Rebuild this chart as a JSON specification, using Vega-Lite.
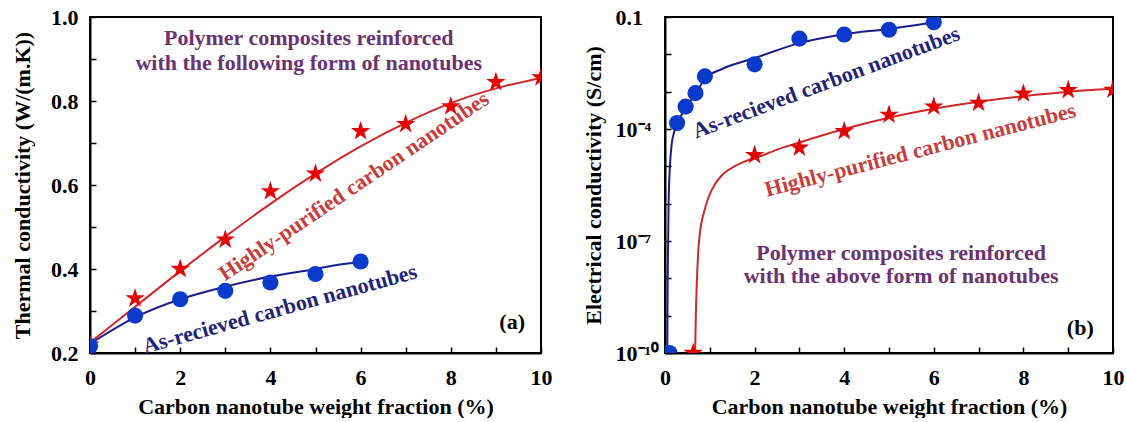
{
  "$schema": "https://vega.github.io/schema/vega-lite/v6.json",
  "padding": {"left": 10, "top": 5, "right": 5, "bottom": 0},
  "background": "white",
  "spacing": 28,
  "datasets": {
    "a_pts": [
      {"series": "Highly-purified", "x": 0, "y": 0.22},
      {"series": "Highly-purified", "x": 1, "y": 0.33},
      {"series": "Highly-purified", "x": 2, "y": 0.40},
      {"series": "Highly-purified", "x": 3, "y": 0.47},
      {"series": "Highly-purified", "x": 4, "y": 0.585},
      {"series": "Highly-purified", "x": 5, "y": 0.627},
      {"series": "Highly-purified", "x": 6, "y": 0.728},
      {"series": "Highly-purified", "x": 7, "y": 0.745},
      {"series": "Highly-purified", "x": 8, "y": 0.787},
      {"series": "Highly-purified", "x": 9, "y": 0.845},
      {"series": "Highly-purified", "x": 10, "y": 0.856},
      {"series": "As-received", "x": 0, "y": 0.216},
      {"series": "As-received", "x": 1, "y": 0.289},
      {"series": "As-received", "x": 2, "y": 0.328},
      {"series": "As-received", "x": 3, "y": 0.348},
      {"series": "As-received", "x": 4, "y": 0.368},
      {"series": "As-received", "x": 5, "y": 0.388},
      {"series": "As-received", "x": 6, "y": 0.418}
    ],
    "a_fit": [
      {"series": "Highly-purified", "x": 0, "y": 0.225},
      {"series": "Highly-purified", "x": 1, "y": 0.31},
      {"series": "Highly-purified", "x": 2, "y": 0.395},
      {"series": "Highly-purified", "x": 3, "y": 0.477},
      {"series": "Highly-purified", "x": 4, "y": 0.555},
      {"series": "Highly-purified", "x": 5, "y": 0.627},
      {"series": "Highly-purified", "x": 6, "y": 0.692},
      {"series": "Highly-purified", "x": 7, "y": 0.748},
      {"series": "Highly-purified", "x": 8, "y": 0.795},
      {"series": "Highly-purified", "x": 9, "y": 0.83},
      {"series": "Highly-purified", "x": 10, "y": 0.855},
      {"series": "As-received", "x": 0, "y": 0.222},
      {"series": "As-received", "x": 1, "y": 0.285},
      {"series": "As-received", "x": 2, "y": 0.328},
      {"series": "As-received", "x": 3, "y": 0.358},
      {"series": "As-received", "x": 4, "y": 0.382},
      {"series": "As-received", "x": 5, "y": 0.40},
      {"series": "As-received", "x": 5.5, "y": 0.41},
      {"series": "As-received", "x": 6, "y": 0.416}
    ],
    "b_pts": [
      {"series": "Highly-purified", "x": 0.63, "y": 1e-10},
      {"series": "Highly-purified", "x": 2, "y": 2.0e-5},
      {"series": "Highly-purified", "x": 3, "y": 3.16e-5},
      {"series": "Highly-purified", "x": 4, "y": 8.7e-5},
      {"series": "Highly-purified", "x": 5, "y": 2.4e-4},
      {"series": "Highly-purified", "x": 6, "y": 3.98e-4},
      {"series": "Highly-purified", "x": 7, "y": 5.0e-4},
      {"series": "Highly-purified", "x": 8, "y": 8.9e-4},
      {"series": "Highly-purified", "x": 9, "y": 1.1e-3},
      {"series": "Highly-purified", "x": 10, "y": 1.12e-3},
      {"series": "As-received", "x": 0.1, "y": 1e-10},
      {"series": "As-received", "x": 0.27, "y": 1.45e-4},
      {"series": "As-received", "x": 0.46, "y": 3.98e-4},
      {"series": "As-received", "x": 0.68, "y": 9.12e-4},
      {"series": "As-received", "x": 0.89, "y": 2.57e-3},
      {"series": "As-received", "x": 2, "y": 5.4e-3},
      {"series": "As-received", "x": 3, "y": 2.63e-2},
      {"series": "As-received", "x": 4, "y": 3.39e-2},
      {"series": "As-received", "x": 5, "y": 4.57e-2},
      {"series": "As-received", "x": 6, "y": 7.24e-2}
    ],
    "b_fit": [
      {"series": "Highly-purified", "x": 0.672, "y": 1e-10},
      {"series": "Highly-purified", "x": 0.689, "y": 1.12e-9},
      {"series": "Highly-purified", "x": 0.712, "y": 8.7e-9},
      {"series": "Highly-purified", "x": 0.749, "y": 6.9e-8},
      {"series": "Highly-purified", "x": 0.787, "y": 1.95e-7},
      {"series": "Highly-purified", "x": 0.861, "y": 5.37e-7},
      {"series": "Highly-purified", "x": 0.974, "y": 1.51e-6},
      {"series": "Highly-purified", "x": 1.124, "y": 3.47e-6},
      {"series": "Highly-purified", "x": 1.311, "y": 6.46e-6},
      {"series": "Highly-purified", "x": 1.536, "y": 9.77e-6},
      {"series": "Highly-purified", "x": 1.76, "y": 1.32e-5},
      {"series": "Highly-purified", "x": 2, "y": 1.62e-5},
      {"series": "Highly-purified", "x": 2.5, "y": 2.8e-5},
      {"series": "Highly-purified", "x": 3, "y": 4.37e-5},
      {"series": "Highly-purified", "x": 4, "y": 1.0e-4},
      {"series": "Highly-purified", "x": 5, "y": 2.0e-4},
      {"series": "Highly-purified", "x": 6, "y": 3.47e-4},
      {"series": "Highly-purified", "x": 7, "y": 5.37e-4},
      {"series": "Highly-purified", "x": 8, "y": 7.59e-4},
      {"series": "Highly-purified", "x": 9, "y": 1.0e-3},
      {"series": "Highly-purified", "x": 10, "y": 1.2e-3},
      {"series": "As-received", "x": 0.05, "y": 1e-10},
      {"series": "As-received", "x": 0.06, "y": 1e-8},
      {"series": "As-received", "x": 0.08, "y": 1e-6},
      {"series": "As-received", "x": 0.11, "y": 1e-5},
      {"series": "As-received", "x": 0.15, "y": 3.98e-5},
      {"series": "As-received", "x": 0.2, "y": 7.94e-5},
      {"series": "As-received", "x": 0.27, "y": 1.41e-4},
      {"series": "As-received", "x": 0.46, "y": 3.55e-4},
      {"series": "As-received", "x": 0.68, "y": 8.91e-4},
      {"series": "As-received", "x": 0.9, "y": 2.24e-3},
      {"series": "As-received", "x": 1.3, "y": 4.17e-3},
      {"series": "As-received", "x": 2, "y": 7.94e-3},
      {"series": "As-received", "x": 3, "y": 2.0e-2},
      {"series": "As-received", "x": 4, "y": 3.47e-2},
      {"series": "As-received", "x": 5, "y": 4.79e-2},
      {"series": "As-received", "x": 6, "y": 7.24e-2}
    ]
  },
  "config": {
    "font": "Liberation Serif, Times New Roman, serif",
    "view": {"stroke": "black", "strokeWidth": 2},
    "axis": {
      "labelFont": "Liberation Serif, Times New Roman, serif", "labelFontWeight": "bold", "labelFontSize": 22, "labelColor": "black",
      "titleFont": "Liberation Serif, Times New Roman, serif", "titleFontWeight": "bold", "titleFontSize": 22, "titleColor": "black",
      "domainColor": "black", "domainWidth": 2, "tickColor": "black", "tickWidth": 1.5, "tickSize": -6,
      "grid": false
    },
    "text": {"font": "Liberation Serif, Times New Roman, serif", "fontWeight": "bold"}
  },
  "hconcat": [
    {
      "width": 451, "height": 336,
      "encoding": {
        "x": {"field": "x", "type": "quantitative", "scale": {"domain": [0, 10]},
          "axis": {"values": [0,1,2,3,4,5,6,7,8,9,10], "labelExpr": "datum.value % 2 == 0 ? datum.label : ''", "labelPadding": 20, "title": "Carbon nanotube weight fraction (%)", "titlePadding": 8, "labelFlush": false}},
        "y": {"field": "y", "type": "quantitative", "scale": {"domain": [0.2, 1.0]},
          "axis": {"values": [0.2,0.3,0.4,0.5,0.6,0.7,0.8,0.9,1.0], "labelExpr": "indexof(['0.2','0.4','0.6','0.8','1.0'], format(datum.value,'.1f')) >= 0 ? format(datum.value,'.1f') : ''", "labelPadding": 18, "title": "Thermal conductivity (W/(m.K))", "titlePadding": 16, "labelFlush": false}}
      },
      "layer": [
        {"data": {"name": "a_fit"}, "mark": {"type": "line", "interpolate": "monotone", "strokeWidth": 2, "clip": true},
          "encoding": {"detail": {"field": "series"}, "color": {"field": "series", "type": "nominal", "scale": {"domain": ["Highly-purified", "As-received"], "range": ["#d02828", "#1c1c8c"]}, "legend": null}}},
        {"data": {"name": "a_pts"}, "mark": {"type": "point", "filled": true, "opacity": 1, "clip": true},
          "encoding": {
            "color": {"field": "series", "type": "nominal", "scale": {"domain": ["Highly-purified", "As-received"], "range": ["#e60000", "#0a3acc"]}, "legend": null},
            "shape": {"field": "series", "type": "nominal", "scale": {"domain": ["Highly-purified", "As-received"], "range": ["M0,-1L0.2245,-0.309L0.9511,-0.309L0.3633,0.118L0.5878,0.809L0,0.382L-0.5878,0.809L-0.3633,0.118L-0.9511,-0.309L-0.2245,-0.309Z", "circle"]}, "legend": null},
            "size": {"field": "series", "type": "nominal", "scale": {"domain": ["Highly-purified", "As-received"], "range": [420, 260]}, "legend": null}
          }},
        {"data": {"values": [{"x": 4.85, "y": 0.949, "t": "Polymer composites reinforced"}, {"x": 4.85, "y": 0.89, "t": "with the following form of nanotubes"}]},
          "mark": {"type": "text", "fontSize": 22, "color": "#6a3272", "baseline": "middle"},
          "encoding": {"text": {"field": "t"}}},
        {"data": {"values": [{"x": 5.85, "y": 0.597, "t": "Highly-purified carbon nanotubes"}]},
          "mark": {"type": "text", "fontSize": 22, "color": "#c83c3c", "baseline": "middle", "angle": -34},
          "encoding": {"text": {"field": "t"}}},
        {"data": {"values": [{"x": 4.21, "y": 0.305, "t": "As-recieved carbon nanotubes"}]},
          "mark": {"type": "text", "fontSize": 22, "color": "#1f2478", "baseline": "middle", "angle": -15.5},
          "encoding": {"text": {"field": "t"}}},
        {"data": {"values": [{"x": 9.36, "y": 0.273, "t": "(a)"}]},
          "mark": {"type": "text", "fontSize": 22, "color": "black", "baseline": "middle"},
          "encoding": {"text": {"field": "t"}}}
      ],
      "resolve": {"scale": {"color": "independent"}}
    },
    {
      "width": 448, "height": 336,
      "encoding": {
        "x": {"field": "x", "type": "quantitative", "scale": {"domain": [0, 10]},
          "axis": {"values": [0,1,2,3,4,5,6,7,8,9,10], "labelExpr": "datum.value % 2 == 0 ? datum.label : ''", "labelPadding": 20, "title": "Carbon nanotube weight fraction (%)", "titlePadding": 8, "labelFlush": false}},
        "y": {"field": "y", "type": "quantitative", "scale": {"type": "log", "domain": [1e-10, 0.1]},
          "axis": {"values": [1e-10,1e-9,1e-8,1e-7,1e-6,1e-5,1e-4,1e-3,1e-2,1e-1], "labelExpr": "round(log(datum.value)/LN10) == -1 ? '0.1' : round(log(datum.value)/LN10) == -4 ? '10⁻⁴' : round(log(datum.value)/LN10) == -7 ? '10⁻⁷' : round(log(datum.value)/LN10) == -10 ? '10⁻¹⁰' : ''", "labelAlign": "left", "labelPadding": 56, "title": "Electrical conductivity (S/cm)", "titlePadding": 10, "labelFlush": false}}
      },
      "layer": [
        {"data": {"name": "b_fit"}, "mark": {"type": "line", "interpolate": "monotone", "strokeWidth": 2, "clip": true},
          "encoding": {"detail": {"field": "series"}, "color": {"field": "series", "type": "nominal", "scale": {"domain": ["Highly-purified", "As-received"], "range": ["#d02828", "#1c1c8c"]}, "legend": null}}},
        {"data": {"name": "b_pts"}, "mark": {"type": "point", "filled": true, "opacity": 1, "clip": true},
          "encoding": {
            "color": {"field": "series", "type": "nominal", "scale": {"domain": ["Highly-purified", "As-received"], "range": ["#e60000", "#0a3acc"]}, "legend": null},
            "shape": {"field": "series", "type": "nominal", "scale": {"domain": ["Highly-purified", "As-received"], "range": ["M0,-1L0.2245,-0.309L0.9511,-0.309L0.3633,0.118L0.5878,0.809L0,0.382L-0.5878,0.809L-0.3633,0.118L-0.9511,-0.309L-0.2245,-0.309Z", "circle"]}, "legend": null},
            "size": {"field": "series", "type": "nominal", "scale": {"domain": ["Highly-purified", "As-received"], "range": [420, 260]}, "legend": null}
          }},
        {"data": {"values": [{"x": 5.27, "y": 4.9e-8, "t": "Polymer composites reinforced"}, {"x": 5.27, "y": 1.15e-8, "t": "with the above form of nanotubes"}]},
          "mark": {"type": "text", "fontSize": 22, "color": "#6a3272", "baseline": "middle"},
          "encoding": {"text": {"field": "t"}}},
        {"data": {"values": [{"x": 5.7, "y": 2.75e-5, "t": "Highly-purified carbon nanotubes"}]},
          "mark": {"type": "text", "fontSize": 22, "color": "#c83c3c", "baseline": "middle", "angle": -14.5},
          "encoding": {"text": {"field": "t"}}},
        {"data": {"values": [{"x": 3.6, "y": 1.78e-3, "t": "As-recieved carbon nanotubes"}]},
          "mark": {"type": "text", "fontSize": 22, "color": "#1f2478", "baseline": "middle", "angle": -20.5},
          "encoding": {"text": {"field": "t"}}},
        {"data": {"values": [{"x": 9.27, "y": 4.8e-10, "t": "(b)"}]},
          "mark": {"type": "text", "fontSize": 22, "color": "black", "baseline": "middle"},
          "encoding": {"text": {"field": "t"}}}
      ],
      "resolve": {"scale": {"color": "independent"}}
    }
  ]
}
